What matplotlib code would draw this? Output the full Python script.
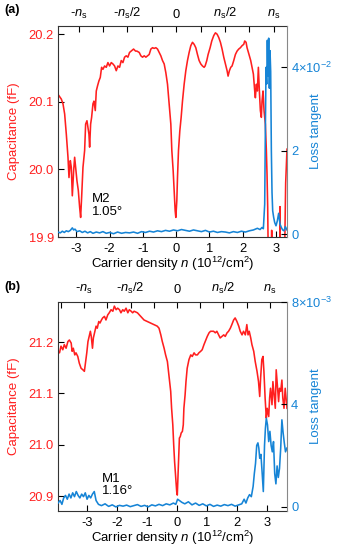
import matplotlib
matplotlib.use("Agg")
import matplotlib.pyplot as plt
import numpy as np

plt.rcParams['font.family'] = ['Liberation Sans', 'DejaVu Sans']
plt.rcParams['mathtext.fontset'] = 'custom'
plt.rcParams['mathtext.rm'] = 'Liberation Sans'
plt.rcParams['mathtext.it'] = 'Liberation Sans:italic'
plt.rcParams['axes.unicode_minus'] = False

RED = '#ff1f1f'
BLUE = '#1684d6'

# ---- panel (a): M2, 1.05 deg ----
ns_a = 2.93
n_a_cap = [-3.55, -3.45, -3.40, -3.35, -3.30, -3.25, -3.22, -3.18, -3.15, -3.12,
           -3.08, -3.05, -3.02, -2.98, -2.94, -2.90, -2.87, -2.84, -2.80, -2.75,
           -2.72, -2.68, -2.65, -2.62, -2.60, -2.57, -2.54, -2.50, -2.47, -2.43,
           -2.40, -2.36, -2.32, -2.28, -2.24, -2.20, -2.15, -2.10, -2.05, -2.00,
           -1.95, -1.90, -1.85, -1.80, -1.75, -1.70, -1.65, -1.60, -1.55, -1.50,
           -1.45, -1.40, -1.35, -1.28, -1.22,
           -1.18, -1.11, -1.06, -1.01, -0.96, -0.91, -0.86, -0.81, -0.76, -0.71,
           -0.66, -0.61, -0.56, -0.51, -0.46, -0.41, -0.36, -0.31, -0.26, -0.21,
           -0.16, -0.13, -0.09, -0.06, -0.03, -0.01, 0.02, 0.04, 0.07, 0.11,
           0.15, 0.19, 0.24, 0.29, 0.34, 0.39, 0.44, 0.49, 0.54, 0.59,
           0.64, 0.69, 0.74, 0.79, 0.84, 0.87, 0.92, 0.96, 1.02, 1.07,
           1.13, 1.18, 1.23, 1.28, 1.33, 1.38, 1.43, 1.48, 1.53, 1.56,
           1.60, 1.64, 1.68, 1.73, 1.78, 1.83, 1.88, 1.93, 1.98, 2.03,
           2.06, 2.10, 2.13, 2.16, 2.20, 2.24, 2.28, 2.32, 2.36, 2.38,
           2.41, 2.44, 2.47, 2.50, 2.53, 2.56, 2.58, 2.61, 2.64, 2.66,
           2.68, 2.71, 2.73, 2.75, 2.76,
           2.80, 2.86, 2.87, 2.88, 2.95, 3.05, 3.11, 3.12, 3.13, 3.20,
           3.26, 3.29, 3.33]
cap_a = [20.111, 20.104, 20.097, 20.082, 20.052, 20.018, 19.988, 20.013, 20.003, 19.961,
         19.998, 20.018, 20.003, 19.983, 19.969, 19.944, 19.929, 19.959, 20.003, 20.028,
         20.067, 20.072, 20.062, 20.052, 20.033, 20.067, 20.077, 20.097, 20.101, 20.087,
         20.116, 20.124, 20.131, 20.136, 20.151, 20.148, 20.153, 20.151, 20.158, 20.153,
         20.158, 20.156, 20.153, 20.146, 20.153, 20.151, 20.161, 20.158, 20.166, 20.168,
         20.166, 20.173, 20.175, 20.178, 20.175,
         20.175, 20.173, 20.168, 20.166, 20.168, 20.166, 20.168, 20.170, 20.178, 20.180,
         20.179, 20.180, 20.178, 20.173, 20.168, 20.161, 20.156, 20.143, 20.126, 20.097,
         20.067, 20.028, 19.998, 19.969, 19.939, 19.929, 19.954, 19.988, 20.028, 20.057,
         20.077, 20.101, 20.126, 20.146, 20.161, 20.173, 20.183, 20.188, 20.185, 20.180,
         20.170, 20.161, 20.156, 20.153, 20.151, 20.153, 20.161, 20.170, 20.180, 20.190,
         20.198, 20.202, 20.200, 20.195, 20.188, 20.178, 20.166, 20.156, 20.146, 20.138,
         20.146, 20.151, 20.153, 20.161, 20.170, 20.175, 20.178, 20.180, 20.183, 20.185,
         20.190, 20.188, 20.180, 20.175, 20.168, 20.161, 20.151, 20.141, 20.116, 20.106,
         20.126, 20.116, 20.151, 20.116, 20.087, 20.077, 20.101, 20.116, 20.087, 20.077,
         20.067, 20.028, 19.993, 19.944, 19.900,
         19.86, 19.86, 19.91, 19.86, 19.86, 19.86, 19.86, 19.945, 19.86, 19.86,
         19.88, 19.98, 20.03]

n_a_loss = [-3.55, -3.48, -3.42, -3.36, -3.30, -3.24, -3.18, -3.12, -3.08, -3.04,
            -2.98, -2.90, -2.82, -2.74, -2.66, -2.58, -2.50, -2.40, -2.30, -2.20,
            -2.10, -2.00, -1.88, -1.76, -1.64, -1.52, -1.40, -1.28, -1.16, -1.04,
            -0.92, -0.80, -0.68, -0.56, -0.44, -0.32, -0.20, -0.08, 0.04, 0.16,
            0.28, 0.40, 0.52, 0.64, 0.76, 0.88, 1.00, 1.12, 1.24, 1.36,
            1.48, 1.60, 1.72, 1.84, 1.96, 2.08, 2.20, 2.32, 2.44, 2.52,
            2.58, 2.62, 2.66, 2.68, 2.70, 2.72, 2.74, 2.76, 2.78, 2.80,
            2.82, 2.84, 2.86, 2.88, 2.90, 2.93, 2.96, 3.00, 3.04, 3.08,
            3.12, 3.16, 3.20, 3.24, 3.28, 3.33]
# loss tangent, units of 1e-2
loss_a = [0.05, 0.03, 0.07, 0.04, 0.08, 0.06, 0.09, 0.15, 0.10, 0.12,
          0.06, 0.08, 0.04, 0.07, 0.03, 0.06, 0.02, 0.05, 0.03, 0.06,
          0.02, 0.04, 0.01, 0.05, 0.02, 0.04, 0.03, 0.05, 0.02, 0.06,
          0.04, 0.07, 0.05, 0.08, 0.06, 0.09, 0.07, 0.10, 0.08, 0.11,
          0.09, 0.07, 0.10, 0.08, 0.06, 0.09, 0.05, 0.07, 0.04, 0.06,
          0.05, 0.03, 0.06, 0.04, 0.07, 0.05, 0.08, 0.10, 0.14, 0.11,
          0.16, 0.13, 0.72, 2.5, 4.0, 3.6, 4.65, 3.8, 4.7, 3.5,
          4.4, 3.9, 2.0, 1.0, 0.56, 0.40, 0.28, 0.20, 0.32, 0.50,
          0.24, 0.16, 0.10, 0.08, 0.18, 0.10]

# ---- panel (b): M1, 1.16 deg ----
ns_b = 3.1
n_b_cap = [-3.98, -3.92, -3.87, -3.81, -3.76, -3.70, -3.64, -3.59, -3.53, -3.50,
           -3.46, -3.41, -3.37, -3.31, -3.26, -3.20, -3.14, -3.09, -3.06, -3.01,
           -2.97, -2.92, -2.89, -2.86, -2.82, -2.79, -2.74, -2.70, -2.66, -2.61,
           -2.57, -2.52, -2.48, -2.42, -2.37, -2.31, -2.26, -2.20, -2.14, -2.09,
           -2.03, -1.98, -1.92, -1.87, -1.81, -1.76, -1.70, -1.64, -1.59, -1.53,
           -1.48,
           -1.43, -1.32, -1.21, -1.10, -0.99, -0.88, -0.77, -0.66, -0.60, -0.54,
           -0.49, -0.43, -0.38, -0.32, -0.27, -0.21, -0.18, -0.14, -0.11, -0.08,
           -0.04, -0.01, 0.01, 0.03, 0.06, 0.08, 0.11, 0.14, 0.18, 0.21,
           0.23, 0.27, 0.30, 0.34, 0.40, 0.46, 0.51, 0.57, 0.62, 0.68,
           0.73, 0.79, 0.84, 0.90, 0.96, 1.01, 1.07, 1.12,
           1.22, 1.28, 1.33, 1.39, 1.44, 1.50, 1.56, 1.61, 1.67, 1.72,
           1.78, 1.83, 1.89, 1.94, 2.00, 2.06, 2.11, 2.17, 2.22, 2.28,
           2.33, 2.37, 2.41, 2.46, 2.50, 2.56, 2.61, 2.67, 2.72, 2.76,
           2.79, 2.83, 2.87, 2.90, 2.92, 2.94, 2.98, 3.01, 3.06, 3.09,
           3.12, 3.17, 3.20, 3.23, 3.28, 3.31, 3.34, 3.39, 3.42, 3.46,
           3.50, 3.53, 3.57, 3.61, 3.67]
cap_b = [21.182, 21.179, 21.192, 21.185, 21.195, 21.188, 21.201, 21.204, 21.198, 21.182,
         21.188, 21.175, 21.179, 21.172, 21.159, 21.149, 21.146, 21.143, 21.156, 21.179,
         21.201, 21.214, 21.221, 21.211, 21.188, 21.208, 21.221, 21.231, 21.227, 21.240,
         21.237, 21.243, 21.247, 21.250, 21.243, 21.253, 21.257, 21.263, 21.260, 21.270,
         21.263, 21.266, 21.263, 21.257, 21.263, 21.260, 21.266, 21.257, 21.263, 21.260,
         21.257,
         21.260, 21.257, 21.250, 21.243, 21.240, 21.237, 21.234, 21.231, 21.227, 21.214,
         21.201, 21.188, 21.175, 21.162, 21.136, 21.104, 21.071, 21.039, 21.000, 20.967,
         20.935, 20.909, 20.902, 20.935, 20.980, 21.013, 21.016, 21.023, 21.026, 21.039,
         21.071, 21.097, 21.123, 21.149, 21.166, 21.175, 21.172, 21.179, 21.175, 21.175,
         21.179, 21.182, 21.185, 21.195, 21.204, 21.211, 21.218, 21.221,
         21.221, 21.218, 21.221, 21.214, 21.208, 21.211, 21.214, 21.211, 21.218, 21.221,
         21.227, 21.234, 21.243, 21.247, 21.240, 21.231, 21.221, 21.214, 21.221, 21.214,
         21.234, 21.214, 21.221, 21.208, 21.195, 21.182, 21.162, 21.143, 21.123, 21.094,
         21.130, 21.166, 21.172, 21.143, 21.117, 21.091, 21.052, 21.071, 21.055, 21.091,
         21.110, 21.078, 21.123, 21.104, 21.071, 21.146, 21.123, 21.084, 21.110, 21.104,
         21.126, 21.091, 21.071, 21.110, 21.071]

n_b_loss = [-3.97, -3.90, -3.84, -3.78, -3.72, -3.66, -3.60, -3.54, -3.48, -3.42,
            -3.36, -3.30, -3.24, -3.18, -3.12, -3.06, -3.00, -2.94, -2.88, -2.82,
            -2.76, -2.70, -2.62, -2.52, -2.40, -2.28, -2.16, -2.04, -1.92, -1.80,
            -1.68, -1.56, -1.44, -1.32, -1.20, -1.08, -0.96, -0.84, -0.72, -0.60,
            -0.48, -0.36, -0.24, -0.12, -0.04, 0.02, 0.08, 0.16, 0.26, 0.38,
            0.50, 0.62, 0.74, 0.86, 0.98, 1.10, 1.22, 1.34, 1.46, 1.58,
            1.70, 1.82, 1.94, 2.06, 2.16, 2.24, 2.30, 2.36, 2.42, 2.48,
            2.54, 2.58, 2.62, 2.66, 2.70, 2.73, 2.76, 2.80, 2.84, 2.88,
            2.92, 2.95, 2.98, 3.02, 3.06, 3.10, 3.14, 3.18, 3.22, 3.26,
            3.30, 3.34, 3.38, 3.42, 3.46, 3.50, 3.54, 3.58, 3.62, 3.67]
# loss tangent, units of 1e-3
loss_b = [0.15, 0.25, 0.10, 0.35, 0.45, 0.30, 0.50, 0.35, 0.55, 0.40,
          0.60, 0.45, 0.35, 0.50, 0.40, 0.55, 0.30, 0.45, 0.35, 0.50,
          0.60, 0.25, 0.10, 0.05, 0.12, 0.02, 0.08, 0.00, 0.06, 0.03,
          0.07, 0.01, 0.05, 0.09, 0.02, 0.06, 0.00, 0.08, 0.04, 0.10,
          0.05, 0.12, 0.08, 0.15, 0.10, 0.30, 0.25, 0.18, 0.12, 0.20,
          0.08, 0.15, 0.06, 0.12, 0.04, 0.10, 0.02, 0.07, 0.03, 0.09,
          0.05, 0.10, 0.03, 0.08, 0.12, 0.30, 0.15, 0.35, 0.48, 0.40,
          0.80, 1.30, 1.70, 2.40, 2.50, 2.30, 1.90, 2.05, 1.35, 0.60,
          2.40, 3.07, 3.46, 3.20, 2.55, 2.95, 2.40, 2.15, 2.55, 1.30,
          0.90, 1.60, 1.15, 1.50, 2.30, 3.40, 2.90, 2.50, 2.15, 2.30]

panels = [
    dict(tag='(a)', rect=[0.1716, 0.569, 0.6775, 0.3836], xlim=(-3.55, 3.33),
         n_cap=n_a_cap, cap=cap_a, n_loss=n_a_loss, loss=np.array(loss_a) * 1e-2,
         ylim=(19.9, 20.212), yticks=[19.9, 20.0, 20.1, 20.2],
         y2lim=(-0.0007, 0.0499), y2ticks=[0, 0.02, 0.04],
         y2labels=['0', '2', r'4$\times$10$^{-2}$'], ns=ns_a,
         note='M2\n1.05°', note_xy=(-2.52, 19.965), tag_y=0.982),
    dict(tag='(b)', rect=[0.1716, 0.0709, 0.6775, 0.380], xlim=(-3.97, 3.67),
         n_cap=n_b_cap, cap=cap_b, n_loss=n_b_loss, loss=np.array(loss_b) * 1e-3,
         ylim=(20.871, 21.278), yticks=[20.9, 21.0, 21.1, 21.2],
         y2lim=(-0.00016, 0.008), y2ticks=[0, 0.004, 0.008],
         y2labels=['0', '4', r'8$\times$10$^{-3}$'], ns=ns_b,
         note='M1\n1.16°', note_xy=(-2.51, 20.945), tag_y=0.479),
]

TICK_FS = 9.3
LABEL_FS = 9.5

fig = plt.figure(figsize=(3.38, 5.5), dpi=100)

for p in panels:
    ax = fig.add_axes(p['rect'])
    ax.plot(p['n_cap'], p['cap'], color=RED, lw=1.15)
    ax.set_xlim(*p['xlim'])
    ax.set_ylim(*p['ylim'])
    ax.set_yticks(p['yticks'])
    ax.set_yticklabels(['%.1f' % v for v in p['yticks']])
    ax.set_xticks([-3, -2, -1, 0, 1, 2, 3])
    ax.tick_params(axis='both', direction='in', length=4, width=0.8, labelsize=TICK_FS)
    ax.tick_params(axis='y', labelcolor=RED, pad=3)
    ax.tick_params(axis='x', pad=4)
    ax.spines['right'].set_visible(False)
    for s in ['left', 'top', 'bottom']:
        ax.spines[s].set_linewidth(0.8)
        ax.spines[s].set_color('#333333')
    ax.set_ylabel('Capacitance (fF)', color=RED, fontsize=LABEL_FS)
    ax.yaxis.set_label_coords(-0.165, 0.5)
    ax.set_xlabel(r'Carrier density $n$ (10$^{12}$/cm$^{2}$)', fontsize=LABEL_FS)
    ax.xaxis.set_label_coords(0.5, -0.085)
    ax.text(p['note_xy'][0], p['note_xy'][1], p['note'], fontsize=LABEL_FS,
            ha='left', va='top', linespacing=1.05)

    top = ax.secondary_xaxis('top')
    ns = p['ns']
    top.set_xticks([-ns, -ns / 2, 0, ns / 2, ns])
    top.set_xticklabels([r'-$n_\mathrm{s}$', r'-$n_\mathrm{s}$/2', '0',
                         r'$n_\mathrm{s}$/2', r'$n_\mathrm{s}$'])
    top.set_xticks([k * ns / 4 for k in (-5, -3, -1, 1, 3, 5)], minor=True)
    top.tick_params(which='both', direction='in', length=4, width=0.8,
                    labelsize=TICK_FS, pad=4)
    top.spines['top'].set_visible(False)

    ax2 = ax.twinx()
    ax2.plot(p['n_loss'], p['loss'], color=BLUE, lw=1.15)
    ax2.set_ylim(*p['y2lim'])
    ax2.set_yticks(p['y2ticks'])
    ax2.set_yticklabels(p['y2labels'])
    ax2.tick_params(axis='y', direction='in', length=4, width=0.8,
                    labelsize=TICK_FS, labelcolor=BLUE, pad=3)
    for s in ['left', 'top', 'bottom']:
        ax2.spines[s].set_visible(False)
    ax2.spines['right'].set_color('#888888')
    ax2.spines['right'].set_linewidth(0.8)
    ax2.set_ylabel('Loss tangent', color=BLUE, fontsize=LABEL_FS)
    ax2.yaxis.set_label_coords(1.1, 0.5)

    fig.text(0.012, p['tag_y'], p['tag'], fontsize=9, fontweight='bold',
             ha='left', va='center')

fig.savefig('out.png', dpi=100)
